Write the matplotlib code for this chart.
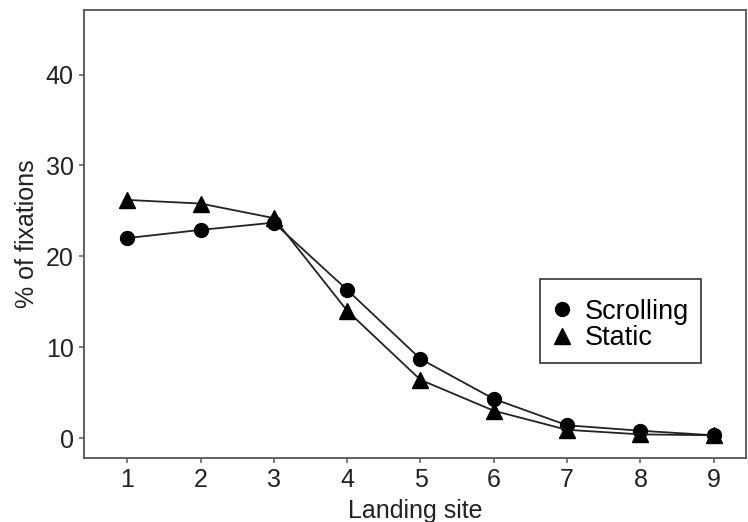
import matplotlib.pyplot as plt

# Datos
landing_site = [1, 2, 3, 4, 5, 6, 7, 8, 9]
scrolling = [22.0, 22.9, 23.7, 16.3, 8.7, 4.3, 1.4, 0.8, 0.3]
static = [26.2, 25.8, 24.2, 14.0, 6.4, 3.0, 0.9, 0.4, 0.3]
y_ticks = [0, 10, 20, 30, 40]

plt.rcParams["font.family"] = ["Liberation Sans", "DejaVu Sans"]

fig = plt.figure(figsize=(7.48, 5.22), dpi=100)
ax = fig.add_axes([84 / 748, 1 - 458 / 522, (746 - 84) / 748, (458 - 10) / 522])

ax.plot(landing_site, scrolling, color="#222222", linewidth=1.3,
        marker="o", markersize=10, markerfacecolor="black", markeredgecolor="black",
        label="Scrolling", zorder=3)
ax.plot(landing_site, static, color="#222222", linewidth=1.3,
        marker="^", markersize=11, markerfacecolor="black", markeredgecolor="black",
        label="Static", zorder=3)

ax.set_xlim(0.41, 9.44)
ax.set_ylim(-2.2, 47.1)
ax.set_xticks(landing_site)
ax.set_yticks(y_ticks)
ax.tick_params(direction="out", length=3.5, width=1.2, color="#666666", pad=4,
               labelsize=18, labelcolor="#222222")
for s in ax.spines.values():
    s.set_color("#555555")
    s.set_linewidth(1.3)

ax.set_xlabel("Landing site", fontsize=18, color="#222222", labelpad=5)
ax.set_ylabel("% of fixations", fontsize=18, color="#222222", labelpad=5)

# título vacío para dejar más aire arriba, como en el original
leg = ax.legend(loc="upper left", bbox_to_anchor=((540 - 84) / 662, 1 - (279 - 10) / 448),
                fontsize=19.5, frameon=True, fancybox=False, edgecolor="black",
                title=" ", title_fontsize=5,
                handlelength=0.75, handletextpad=0.45, borderpad=0.45, labelspacing=0.02,
                borderaxespad=0)
leg.get_frame().set_linewidth(1.2)
for h in leg.legend_handles:
    h.set_linestyle("none")

plt.savefig("out.png", dpi=100)
